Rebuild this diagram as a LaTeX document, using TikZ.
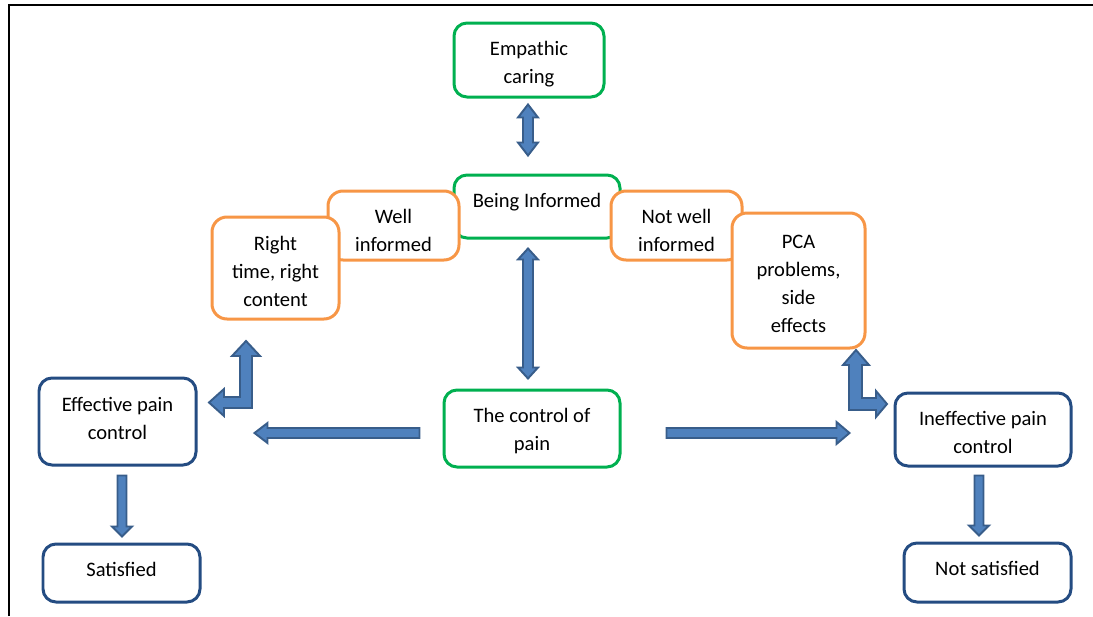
\documentclass[tikz,border=0pt]{standalone}
\usepackage{fontspec}
\setmainfont{Carlito}
\usetikzlibrary{calc}
\definecolor{cgreen}{RGB}{0,176,80}
\definecolor{corange}{RGB}{247,150,70}
\definecolor{cblue}{RGB}{36,76,130}
\definecolor{afill}{RGB}{79,129,189}
\definecolor{aline}{RGB}{56,93,138}
\def\pu{0.56906pt}
\newlength\pxd \setlength\pxd{0.02cm}
% box text: width, height (px), optional first baseline offset, text (top anchored)
\newcommand\bx[4][18.3pt]{\parbox[c][#3\pxd][t]{#2\pxd}{\centering\rule{0pt}{#1}#4\par}}
\tikzset{
  box/.style={draw, fill=white, line width=0.06cm, rounded corners=0.26cm,
    inner sep=0pt, font=\fontsize{11.7}{15.9}\selectfont},
  gbox/.style={box, draw=cgreen},
  obox/.style={box, draw=corange, rounded corners=0.3cm},
  bbox/.style={box, draw=cblue},
  barrow/.style={fill=afill, draw=aline, line width=1.1pt, line join=miter},
}
% single block arrow: from, to, shaft half, head half, head length (px)
\newcommand\sarrow[5]{%
  \draw[barrow] let \p1=(#1), \p2=(#2), \n1={veclen(\x2-\x1,\y2-\y1)}, \n2={atan2(\y2-\y1,\x2-\x1)} in
  [shift={(\p1)}, rotate=\n2]
  (0pt,{#3*\pu}) -- ({\n1*1pt-#5*\pu},{#3*\pu}) -- ({\n1*1pt-#5*\pu},{#4*\pu}) -- ({\n1*1pt},0pt)
  -- ({\n1*1pt-#5*\pu},{-#4*\pu}) -- ({\n1*1pt-#5*\pu},{-#3*\pu}) -- (0pt,{-#3*\pu}) -- cycle;}
% double block arrow
\newcommand\darrow[5]{%
  \draw[barrow] let \p1=(#1), \p2=(#2), \n1={veclen(\x2-\x1,\y2-\y1)}, \n2={atan2(\y2-\y1,\x2-\x1)} in
  [shift={(\p1)}, rotate=\n2]
  (0pt,0pt) -- ({#5*\pu},{#4*\pu}) -- ({#5*\pu},{#3*\pu}) -- ({\n1*1pt-#5*\pu},{#3*\pu}) -- ({\n1*1pt-#5*\pu},{#4*\pu}) -- ({\n1*1pt},0pt)
  -- ({\n1*1pt-#5*\pu},{-#4*\pu}) -- ({\n1*1pt-#5*\pu},{-#3*\pu}) -- ({#5*\pu},{-#3*\pu}) -- ({#5*\pu},{-#4*\pu}) -- cycle;}
\begin{document}
\begin{tikzpicture}[x=0.02cm, y=-0.02cm]
\useasboundingbox (0,0) rectangle (1093,616);
% frame
\draw[line width=0.9pt] (9,616) -- (9,5) -- (1093,5);
% nodes
\node[gbox] (emp) at (529,60) {\bx{150}{74}{Empathic\\caring}};
\node[gbox] (inf) at (537,206.5) {\bx{166}{63}{Being Informed}};
\node[obox] (well) at (393.5,225.5) {\bx{131}{69}{Well\\informed}};
\node[obox] (rt) at (275.5,268) {\bx[19pt]{127}{102}{Right\\time, right\\content}};
\node[obox] (nwell) at (676.5,225.5) {\bx{131}{69}{Not well\\informed}};
\node[obox] (pca) at (798.5,280.5) {\bx[20.2pt]{133}{135}{PCA\\problems,\\side\\effects}};
\node[gbox] (ctrl) at (532,428.5) {\bx{176}{77}{The control of\\pain}};
\node[bbox] (eff) at (117.5,421.5) {\bx[19pt]{157}{87}{Effective pain\\control}};
\node[bbox] (ineff) at (983,429.5) {\bx{176}{73}{Ineffective pain\\control}};
\node[bbox] (sat) at (121.5,573) {\bx{157}{58}{Satisfied}};
\node[bbox] (nsat) at (987.5,572.5) {\bx{167}{59}{Not satisfied}};
% connectors
\darrow{$(emp.south)+(-1,6)$}{$(inf.north)+(-9,-18)$}{5}{10}{13}
\darrow{$(inf.south)+(-9,9)$}{$(ctrl.north)+(-4,-10)$}{5}{10}{11}
\sarrow{$(ctrl.west)+(-23,4.5)$}{$(eff.east)+(57,11.5)$}{5}{10}{13}
\sarrow{$(ctrl.east)+(45,4.5)$}{$(ineff.west)+(-44,3.5)$}{5}{11}{13}
\sarrow{$(eff.south)+(4.5,9)$}{$(sat.north)+(0.5,-6)$}{4.5}{10}{10}
\sarrow{$(ineff.south)+(-4,8)$}{$(nsat.north)+(-8.5,-6)$}{4.5}{10}{10}
% bent double arrows
\draw[barrow] (252,408) -- (252,356) -- (260,356) -- (246,341) -- (232,356) -- (240,356)
  -- (240,397) -- (224,397) -- (224,389) -- (209,402.5) -- (224,416) -- (224,408) -- cycle;
\draw[barrow] (849,410) -- (849,365) -- (843,365) -- (856,350) -- (869,365) -- (862,365)
  -- (862,398) -- (876,398) -- (876,391) -- (887,404) -- (876,417) -- (876,410) -- cycle;
\end{tikzpicture}
\end{document}
